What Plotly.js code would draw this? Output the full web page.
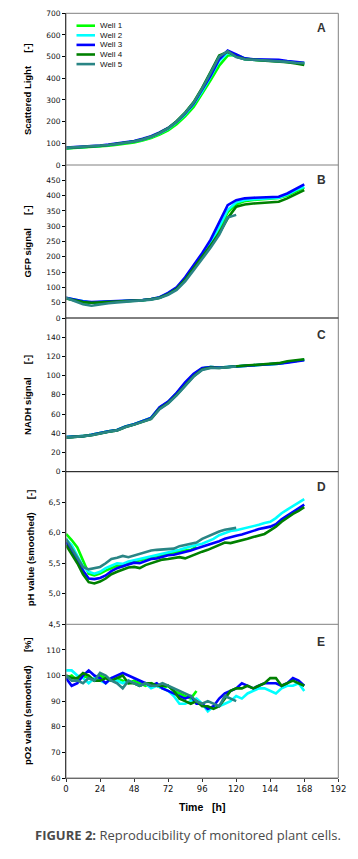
<!DOCTYPE html>
<html><head><meta charset="utf-8">
<script src="https://cdn.plot.ly/plotly-3.0.1.min.js"></script>
<style>html,body{margin:0;padding:0;background:#fff}#chart{width:358px;height:859px}</style>
</head><body><div id="chart"></div>
<script>
const wells = ['Well 1','Well 2','Well 3','Well 4','Well 5'];
const colors = ['#00FF00','#00FFFF','#0000FF','#008000','#2A8585'];
const t6 = [0,6,12,18,24,30,36,42,48,54,60,66,72,78,84,90,96,102,108,114,120,126,132,138,144,150,156,162,168];
const t4 = [0,4,8,12,16,20,24,28,32,36,40,44,48,52,56,60,64,68,72,76,80,84,88,92,96,100,104,108,112,116,120,124,128,132,136,140,144,148,152,156,160,164,168];

// Panel A: scattered light
const scatW1 = [76,78,81,83,86,89,94,99,104,113,124,140,160,188,225,268,328,392,458,505,508,492,486,485,483,480,476,472,468];
const scatW2 = [78,80,83,85,88,92,97,102,108,117,129,146,167,197,234,280,340,408,480,518,500,488,486,485,484,481,477,473,469];
const scatW3 = [80,82,84,87,90,94,99,105,111,121,133,150,171,200,238,284,346,412,488,528,510,492,488,487,488,486,480,475,472];
const scatW4 = [78,80,83,85,88,92,97,102,108,118,130,148,170,202,242,290,356,430,505,522,500,488,485,483,481,478,474,468,462];
const scatW5 = [79,81,83,86,88,92,97,102,108,118,130,147,169,200,240,288,352,425,500,525,498,488,486,484,482,480,476,472,470];

// Panel B: GFP signal
const gfpW1 = [65,58,52,50,52,53,54,55,56,58,61,66,79,96,127,165,203,244,290,345,372,382,386,388,390,392,400,414,426];
const gfpW2 = [65,60,53,50,52,53,54,55,56,58,61,67,80,98,129,168,206,248,298,353,378,386,388,390,391,393,403,418,429];
const gfpW3 = [66,60,55,52,53,54,55,56,57,59,62,68,82,100,133,172,212,256,310,369,385,391,393,394,394,396,407,421,437];
const gfpW4 = [64,58,52,50,51,53,54,55,56,58,61,66,78,95,125,162,198,238,277,326,364,371,374,376,378,380,391,404,418];
const gfpW5 = [66,55,45,40,45,48,51,53,55,57,60,65,76,92,120,156,192,230,272,328,337,null,null,null,null,null,null,null,null];

// Panel C: NADH signal
const nadhW1 = [36,36.5,37,38.5,40.5,42,43.5,47,49.5,52.5,56,66.5,72.5,81.5,92,101,107.5,109,108.5,109,109.5,110,110.5,111,112,112.5,114,115.5,116.5];
const nadhW2 = [36,36.5,37,38.5,40.5,42,43.5,47,49.5,52.5,56,66.5,72.5,81.5,92,101,107.5,109,108.5,109,109.5,110,110.5,111,112,112.5,114,115.5,116.5];
const nadhW3 = [36,36.5,37,38.5,40.5,42,43.5,47,49.5,52.5,56,67,73,82,93,102,108,109,108.5,109,109.5,110,110.5,111,111.5,112.5,113.5,115,116];
const nadhW4 = [35.5,36,37,38,40,41.5,43,46.5,49,52,55,65.5,71.5,80,90,99.5,106.5,108.5,108,109,109.5,110.5,111,111.5,112.5,113,115,116,117];
const nadhW5 = [35.5,36,37,38,40,41.5,43,46.5,49,52,55,65,71,79.5,89.5,99,106,108,108,109,109.5,null,null,null,null,null,null,null,null];

// Panel D: pH value (smoothed)
const phW1 = [5.98,5.88,5.76,5.55,5.33,5.30,5.33,5.38,5.42,5.46,5.45,5.50,5.52,5.55,5.57,5.60,5.62,5.64,5.66,5.67,5.70,5.71,5.72,5.77,null,null,null,null,null,null,null,null,null,null,null,null,null,null,null,null,null,null,null];
const phW2 = [5.90,5.80,5.62,5.45,5.36,5.33,5.36,5.42,5.46,5.50,5.49,5.53,5.55,5.57,5.60,5.62,5.64,5.66,5.68,5.70,5.72,5.75,5.78,5.80,5.82,5.86,5.90,5.96,6.00,6.03,6.04,6.06,6.08,6.10,6.13,6.16,6.18,6.24,6.32,6.38,6.44,6.50,6.55];
const phW3 = [5.85,5.72,5.55,5.38,5.25,5.24,5.26,5.30,5.37,5.42,5.45,5.48,5.51,5.50,5.54,5.57,5.58,5.61,5.63,5.64,5.66,5.68,5.71,5.74,5.77,5.79,5.82,5.86,5.90,5.93,5.95,5.97,6.00,6.04,6.06,6.08,6.10,6.14,6.22,6.28,6.34,6.40,6.46];
const phW4 = [5.80,5.66,5.50,5.32,5.19,5.17,5.20,5.25,5.32,5.36,5.40,5.43,5.44,5.42,5.47,5.50,5.53,5.56,5.57,5.58,5.60,5.58,5.62,5.66,5.69,5.72,5.76,5.80,5.84,5.83,5.85,5.87,5.90,5.93,5.95,5.98,6.04,6.10,6.18,6.25,6.31,6.36,6.42];
const phW5 = [5.90,5.75,5.58,5.44,5.40,5.42,5.44,5.50,5.57,5.59,5.62,5.60,5.63,5.66,5.69,5.71,5.72,5.73,5.74,5.74,5.78,5.80,5.81,5.84,5.90,5.94,5.99,6.02,6.05,6.06,6.08,null,null,null,null,null,null,null,null,null,null,null,null];

// Panel E: pO2 value (smoothed)
const po2W1 = [99,100,98,100,99,98,100,99,98,99,98,97,98,97,96,97,96,95,96,94,93,92,91,94,null,null,null,null,null,null,null,null,null,null,null,null,null,null,null,null,null,null,null];
const po2W2 = [102,102,100,99,97,99,98,97,99,98,97,98,97,96,97,95,96,95,94,92,89,89,90,91,89,86,88,88,89,90,92,91,93,94,95,95,94,93,95,96,96,97,94];
const po2W3 = [99,96,97,100,102,100,99,97,99,100,101,100,99,98,97,96,97,95,94,93,92,91,92,89,89,87,88,91,93,94,95,97,96,95,96,97,97,97,96,97,99,98,96];
const po2W4 = [100,99,99,101,100,98,98,99,98,99,100,97,97,96,97,97,96,96,96,94,91,90,89,90,88,88,87,88,91,94,95,95,96,95,96,97,99,99,96,97,98,97,96];
const po2W5 = [100,98,98,97,99,98,101,100,98,97,95,98,97,96,97,96,96,97,96,95,94,93,92,90,89,90,89,88,92,91,90,null,null,null,null,null,null,null,null,null,null,null,null];

const panelData = [
  {axis:'y',  x:t6, ys:[scatW1,scatW2,scatW3,scatW4,scatW5]},
  {axis:'y2', x:t6, ys:[gfpW1,gfpW2,gfpW3,gfpW4,gfpW5]},
  {axis:'y3', x:t6, ys:[nadhW1,nadhW2,nadhW3,nadhW4,nadhW5]},
  {axis:'y4', x:t4, ys:[phW1,phW2,phW3,phW4,phW5]},
  {axis:'y5', x:t4, ys:[po2W1,po2W2,po2W3,po2W4,po2W5]}
];

const traces = [];
panelData.forEach(p => {
  p.ys.forEach((y, i) => {
    traces.push({x:p.x, y:y, xaxis:'x', yaxis:p.axis, type:'scatter', mode:'lines',
      name:wells[i], showlegend:false, connectgaps:false,
      line:{color:colors[i], width:2.6}});
  });
});

const H = 859, W = 358;
const py = v => 1 - v/H;
const px = v => v/W;
const X0 = px(66), X1 = px(338.3);
const tickFont = {family:'DejaVu Sans', size:7.5, color:'#111'};
const titleFont = {family:'Liberation Sans, Arial', size:9.5, color:'#000', weight:'bold'};
const sp = '\u00A0\u00A0\u00A0\u00A0\u00A0';

function yax(domain, range, tickvals, ticktext, title, standoff) {
  const a = {domain:domain, range:range, anchor:'x', showline:true, linecolor:'#000', linewidth:1,
    ticks:'outside', ticklen:3, tickcolor:'#000', showgrid:false, zeroline:false,
    tickfont:tickFont, tickvals:tickvals, fixedrange:true,
    title:{text:title, font:titleFont, standoff:standoff}};
  if (ticktext) { a.ticktext = ticktext; a.tickmode = 'array'; }
  return a;
}

const layout = {
  width:W, height:H, margin:{l:0,r:0,t:0,b:0}, paper_bgcolor:'#fff', plot_bgcolor:'rgba(0,0,0,0)',
  showlegend:false,
  xaxis:{domain:[X0,X1], range:[0,192], anchor:'y5', tickvals:[0,24,48,72,96,120,144,168,192],
    showline:true, linecolor:'#555', ticks:'outside', ticklen:3, tickcolor:'#333', showgrid:false, zeroline:false,
    tickfont:{family:'DejaVu Sans', size:8.5, color:'#111'},
    title:{text:'Time' + '\u00A0\u00A0\u00A0' + '[h]', font:{family:'Liberation Sans, Arial', size:10.5, color:'#000', weight:'bold'}, standoff:10}},
  yaxis: yax([py(165), py(13.3)], [0,700], [0,100,200,300,400,500,600,700], null, 'Scattered Light' + sp + '[-]', 12),
  yaxis2: yax([py(318), py(165)], [0,500], [0,50,100,150,200,250,300,350,400,450], null, 'GFP signal' + sp + '[-]', 12),
  yaxis3: yax([py(471.7), py(318)], [0,160], [0,20,40,60,80,100,120,140], null, 'NADH signal' + sp + '[-]', 12),
  yaxis4: yax([py(624.3), py(471.7)], [4.5,7.0], [4.5,5.0,5.5,6.0,6.5], ['4,5','5,0','5,5','6,0','6,5'], 'pH value (smoothed)' + sp + '[-]', 12),
  yaxis5: yax([py(778), py(624.3)], [60,120], [60,70,80,90,100,110], null, 'pO2 value (smoothed)' + sp + '[%]', 12),
  shapes: [
    {type:'rect', xref:'paper', yref:'paper', x0:X0, x1:X1, y0:py(778), y1:py(13.3), line:{color:'#808080', width:1}},
    {type:'line', xref:'paper', yref:'paper', x0:X0, x1:X1, y0:py(165), y1:py(165), line:{color:'#808080', width:1}},
    {type:'line', xref:'paper', yref:'paper', x0:X0, x1:X1, y0:py(318), y1:py(318), line:{color:'#000', width:1}},
    {type:'line', xref:'paper', yref:'paper', x0:X0, x1:X1, y0:py(471.7), y1:py(471.7), line:{color:'#000', width:1}},
    {type:'line', xref:'paper', yref:'paper', x0:X0, x1:X1, y0:py(624.3), y1:py(624.3), line:{color:'#808080', width:1}}
  ],
  annotations: []
};

// panel letters
[['A',28],['B',180],['C',335],['D',487],['E',642]].forEach(([t,y]) => {
  layout.annotations.push({text:'<b>'+t+'</b>', xref:'paper', yref:'paper', x:px(321), y:py(y),
    xanchor:'center', yanchor:'middle', showarrow:false, font:{family:'Liberation Sans, Arial', size:12, color:'#333'}});
});

// manual legend
wells.forEach((w, i) => {
  const yy = 25.7 + i*9.6;
  layout.shapes.push({type:'line', xref:'paper', yref:'paper', x0:px(76.5), x1:px(95), y0:py(yy), y1:py(yy),
    line:{color:colors[i], width:2.6}});
  layout.annotations.push({text:w, xref:'paper', yref:'paper', x:px(98), y:py(yy), xanchor:'left', yanchor:'middle',
    showarrow:false, font:{family:'Liberation Sans, Arial', size:8, color:'#111'}});
});

// caption
layout.annotations.push({text:'<b>FIGURE 2:</b> Reproducibility of monitored plant cells.', xref:'paper', yref:'paper',
  x:px(188), y:py(835), xanchor:'center', yanchor:'middle', showarrow:false,
  font:{family:'Open Sans', size:13, color:'#4a4a4a'}});

Plotly.newPlot('chart', traces, layout, {staticPlot:true, displayModeBar:false});
</script></body></html>
